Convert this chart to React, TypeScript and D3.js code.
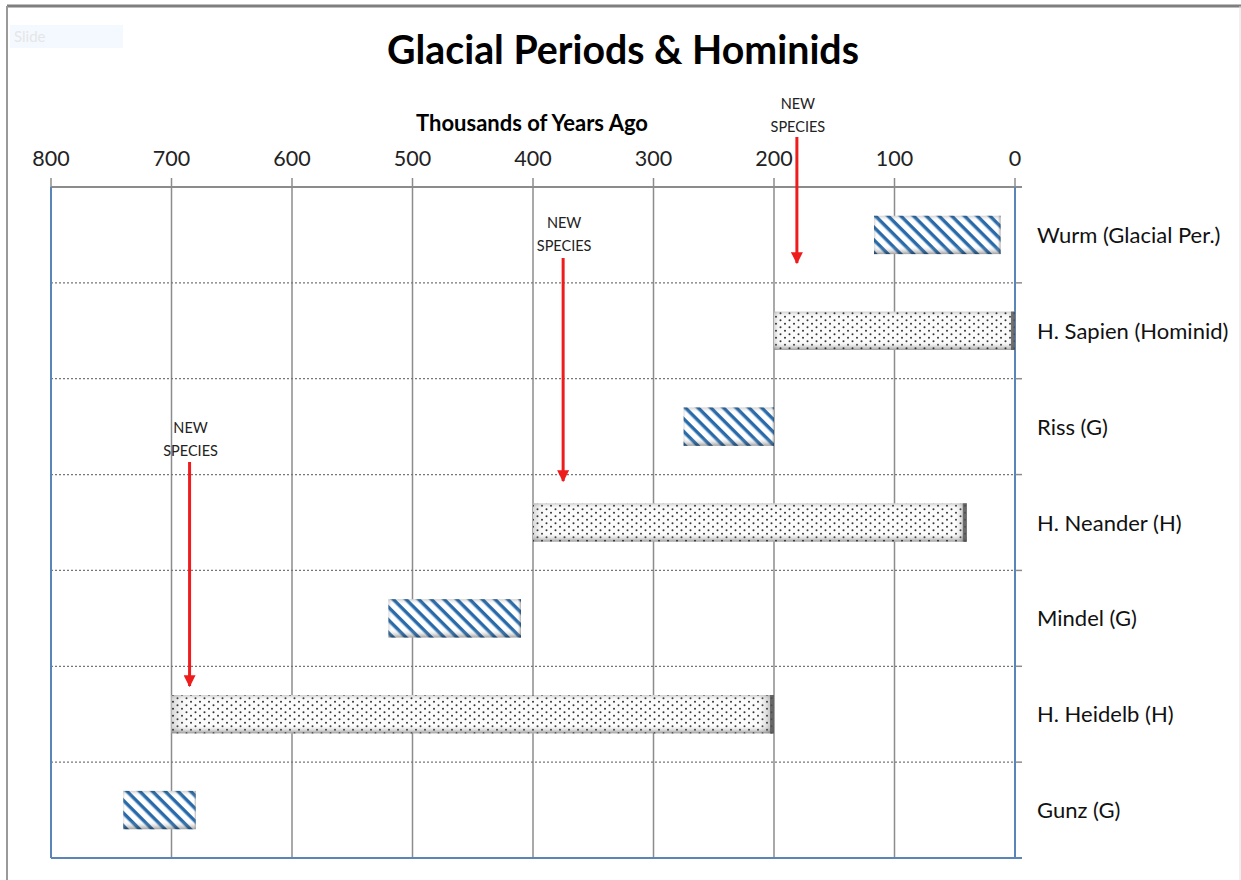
import React from "react";
import * as d3 from "d3";

const categories = [
  "Wurm (Glacial Per.)",
  "H. Sapien (Hominid)",
  "Riss (G)",
  "H. Neander (H)",
  "Mindel (G)",
  "H. Heidelb (H)",
  "Gunz (G)",
];
const barStart = [117, 200, 275, 400, 520, 700, 740];
const barEnd = [12, 0, 200, 40, 410, 200, 680];
const barKind = ["G", "H", "G", "H", "G", "H", "G"];
const xTicks = [800, 700, 600, 500, 400, 300, 200, 100, 0];
const arrowAt = [181, 375, 685];
const arrowLabel = ["NEW", "SPECIES"];

const W = 1241;
const H = 880;
const left = 51;
const right = 1015;
const top = 187;
const bottom = 858;

export default function App() {
  const x = d3.scaleLinear().domain([800, 0]).range([left, right]);
  const y = d3.scaleBand<string>().domain(categories).range([top, bottom]).paddingInner(0).paddingOuter(0);
  const bw = y.bandwidth();
  const barH = bw * 0.4;
  const font = "Lato, 'Open Sans', 'Liberation Sans', sans-serif";
  const gridColor = "#8c8c8c";
  const borderBlue = "#5b84b8";

  const arrowY0 = [137, 258, 462];
  const arrowY1 = [265, 483, 688];
  const labelY = [103, 222, 427];

  return (
    <svg
      width={W}
      height={H}
      style={{ position: "absolute", left: 0, top: 0, background: "#fff" }}
      fontFamily={font}
    >
      <defs>
        <pattern id="stripes" patternUnits="userSpaceOnUse" width="9" height="9" patternTransform="rotate(45)">
          <rect width="9" height="9" fill="#ffffff" />
          <rect width="9" height="3" fill="#2a6aa8" />
          <rect y="3" width="9" height="1" fill="#9fc2e2" />
        </pattern>
        <pattern id="dots" patternUnits="userSpaceOnUse" width="9" height="7">
          <rect width="9" height="7" fill="#fbfbfb" />
          <circle cx="2" cy="1.8" r="1" fill="#333" />
          <circle cx="6.5" cy="5.3" r="1" fill="#333" />
        </pattern>
        <linearGradient id="bevelV" x1="0" y1="0" x2="0" y2="1">
          <stop offset="0" stopColor="#000" stopOpacity="0.18" />
          <stop offset="0.15" stopColor="#fff" stopOpacity="0" />
          <stop offset="0.78" stopColor="#fff" stopOpacity="0" />
          <stop offset="1" stopColor="#000" stopOpacity="0.38" />
        </linearGradient>
        <linearGradient id="bevelH" x1="0" y1="0" x2="1" y2="0">
          <stop offset="0" stopColor="#000" stopOpacity="0.15" />
          <stop offset="0.03" stopColor="#fff" stopOpacity="0" />
          <stop offset="0.97" stopColor="#fff" stopOpacity="0" />
          <stop offset="1" stopColor="#000" stopOpacity="0.35" />
        </linearGradient>
        <marker id="ahead" viewBox="0 0 10 10" refX="9" refY="5" markerWidth="4" markerHeight="4" orient="auto" markerUnits="strokeWidth">
          <path d="M0,0 L10,5 L0,10 z" fill="#ee1c1c" />
        </marker>
      </defs>

      {/* outer frame */}
      <line x1={7} y1={6} x2={1241} y2={6} stroke="#7f7f7f" strokeWidth={3} />
      <line x1={7} y1={6} x2={7} y2={880} stroke="#9a9a9a" strokeWidth={2} />
      <line x1={1240} y1={6} x2={1240} y2={880} stroke="#e0e0e0" strokeWidth={1} />

      {/* faint leftover label */}
      <rect x={10} y={25} width={113} height={23} fill="#f4f9ff" />
      <text x={14} y={42} fontSize={15} fill="#e6e6e6">Slide</text>

      {/* title */}
      <text x={623} y={64} textAnchor="middle" fontSize={39.3} fontWeight="bold" fill="#000">
        Glacial Periods &amp; Hominids
      </text>
      <text x={532} y={131} textAnchor="middle" fontSize={22} fontWeight="bold" fill="#000">
        Thousands of Years Ago
      </text>

      {/* vertical gridlines + tick labels */}
      {xTicks.map((t) => (
        <g key={t}>
          <line x1={x(t)} x2={x(t)} y1={178} y2={bottom} stroke={gridColor} strokeWidth={1.5} />
          <text x={x(t)} y={166} textAnchor="middle" fontSize={21.5} fill="#222">
            {t}
          </text>
        </g>
      ))}

      {/* top axis line */}
      <line x1={left} x2={right + 7} y1={top} y2={top} stroke={gridColor} strokeWidth={2} />

      {/* horizontal dotted separators */}
      {categories.slice(1).map((c) => (
        <g key={c}>
          <line x1={left} x2={right} y1={y(c)!} y2={y(c)!} stroke="#777" strokeWidth={1.3} strokeDasharray="2 2" />
          <line x1={right} x2={right + 7} y1={y(c)!} y2={y(c)!} stroke={gridColor} strokeWidth={1.5} />
        </g>
      ))}

      {/* plot borders */}
      <line x1={left} x2={left} y1={top} y2={bottom} stroke={borderBlue} strokeWidth={2} />
      <line x1={right} x2={right} y1={top} y2={bottom} stroke={borderBlue} strokeWidth={2} />
      <line x1={left} x2={right + 7} y1={bottom} y2={bottom} stroke={borderBlue} strokeWidth={2} />

      {/* bars */}
      {categories.map((c, i) => {
        const x0 = x(barStart[i]);
        const x1 = x(barEnd[i]);
        const yy = y(c)! + (bw - barH) / 2;
        const fill = barKind[i] === "G" ? "url(#stripes)" : "url(#dots)";
        return (
          <g key={c}>
            <rect x={x0} y={yy} width={x1 - x0} height={barH} fill={fill} />
            <rect x={x0} y={yy} width={x1 - x0} height={barH} fill="url(#bevelV)" />
            <rect x={x0} y={yy} width={x1 - x0} height={barH} fill="url(#bevelH)" />
            {barKind[i] === "H" && (
              <rect x={x1 - 4} y={yy} width={4} height={barH} fill="#555" opacity={0.8} />
            )}
          </g>
        );
      })}

      {/* category labels */}
      {categories.map((c) => (
        <text key={c} x={1037} y={y(c)! + bw / 2 + 8} fontSize={22} fill="#111">
          {c}
        </text>
      ))}

      {/* new species arrows */}
      {arrowAt.map((v, i) => (
        <g key={v}>
          <text x={x(v) + 1} y={labelY[i] + 6} textAnchor="middle" fontSize={14.5} fill="#222">
            {arrowLabel[0]}
          </text>
          <text x={x(v) + 1} y={labelY[i] + 29} textAnchor="middle" fontSize={14.5} fill="#222">
            {arrowLabel[1]}
          </text>
          <line
            x1={x(v)}
            x2={x(v)}
            y1={arrowY0[i]}
            y2={arrowY1[i] - 2}
            stroke="#ee1c1c"
            strokeWidth={3}
            markerEnd="url(#ahead)"
          />
        </g>
      ))}
    </svg>
  );
}
